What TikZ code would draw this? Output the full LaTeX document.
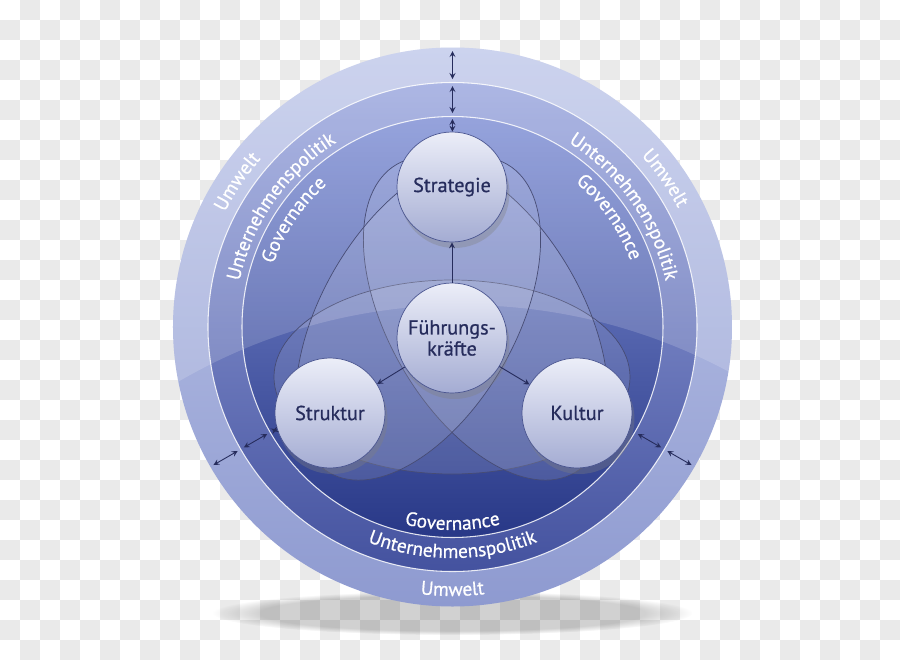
\documentclass[tikz,border=0pt]{standalone}
\usepackage{fontspec}
\setmainfont{PT Sans}
\newfontfamily\medfont[FakeBold=0.7]{PT Sans}
\usetikzlibrary{decorations.text,shadows,fadings}

\definecolor{ink}{HTML}{262C5C}
\definecolor{chk}{HTML}{EAEAEA}
\definecolor{outTop}{HTML}{C3CBEB}
\definecolor{outBot}{HTML}{8E9AD0}
\definecolor{midTop}{HTML}{9DA9DF}
\definecolor{midBot}{HTML}{44529F}
\definecolor{inTop}{HTML}{8292D6}
\definecolor{inBot}{HTML}{283887}
\definecolor{ballTop}{HTML}{ECEEF8}
\definecolor{ballBot}{HTML}{A4ACD3}
\definecolor{ballRim}{HTML}{4A5590}

\newcommand{\rfont}{\medfont\fontsize{11}{13}\selectfont}

\begin{document}
\begin{tikzpicture}[scale=0.2, >=stealth,
    ball/.style={circle, minimum size=2.2cm, inner sep=0pt, draw=ballRim, line width=0.4pt,
      top color=ballTop, bottom color=ballBot, text=ink, align=center,
      font=\medfont\fontsize{11.5}{12}\selectfont,
      drop shadow={opacity=0.35, shadow xshift=0.5mm, shadow yshift=-1.2mm}},
    tref/.style={draw=ink!85, line width=0.4pt, fill=white, fill opacity=0.12},
    ringline/.style={white, line width=0.6pt, opacity=0.85},
    link/.style={->, ink, line width=0.5pt},
    gap/.style={<->, ink, line width=0.5pt},
    ringtext/.style={decorate, decoration={text along path, text align=center,
      text color=white, text={|\rfont|#1}}}]

  \useasboundingbox (-45.25,32.7) rectangle (44.75,-33.3);

  % transparent checker
  \fill[white] (-45.25,32.7) rectangle (44.75,-33.3);
  \foreach \i in {0,...,44}{
    \foreach \j in {0,...,32}{
      \pgfmathtruncatemacro\k{mod(\i+\j,2)}
      \ifnum\k=1 \fill[chk] ({(20*\i-452.5)/10},{(327-20*\j)/10}) rectangle ++(2,-2); \fi
    }
  }

  % shadow and rings
  \fill[black, opacity=0.18, path fading=circle with fuzzy edge 20 percent] (0,-28.6) ellipse (24 and 2.2);
  \shade[top color=outTop, bottom color=outBot] (0,0) circle (27.95);
  \shade[top color=midTop, bottom color=midBot] (0,0) circle (24.45);
  \shade[top color=inTop, bottom color=inBot] (0,0) circle (21.05);

  \begin{scope}
    \clip (0,0) circle (27.95);
    \fill[white, opacity=0.16, even odd rule] (-30,-30) rectangle (30,30) (1,-54.2) circle (56.4);
  \end{scope}

  \draw[ringline] (0,0) circle (24.45);
  \draw[ringline] (0,0) circle (21.05);

  % trefoil, one ellipse round each pair of outer balls
  \begin{scope}[shift={(-0.05,-1.1)}]
    \foreach \r in {0,120,240}
      \draw[tref, rotate=\r] (0,-3.9) ellipse (17.8 and 9.7);
  \end{scope}

  % ring labels
  \path[ringtext=Umwelt] (175:25.5) arc[start angle=175, end angle=117, radius=25.5];
  \path[ringtext=Unternehmenspolitik] (180:21.8) arc[start angle=180, end angle=110, radius=21.8];
  \path[ringtext=Governance] (180:19.0) arc[start angle=180, end angle=112, radius=19.0];

  \path[ringtext=Umwelt] (64:25.5) arc[start angle=64, end angle=6, radius=25.5];
  \path[ringtext=Unternehmenspolitik] (70:21.8) arc[start angle=70, end angle=0, radius=21.8];
  \path[ringtext=Governance] (69:19.0) arc[start angle=69, end angle=1, radius=19.0];

  \path[ringtext=Umwelt] (240:26.9) arc[start angle=240, end angle=300, radius=26.9];
  \path[ringtext=Unternehmenspolitik] (230:23.1) arc[start angle=230, end angle=310, radius=23.1];
  \path[ringtext=Governance] (235:20.3) arc[start angle=235, end angle=305, radius=20.3];

  % nodes
  \node[ball] (strat) at (-0.05,14.0) {Strategie};
  \node[ball] (fk) at (-0.05,-1.1) {Führungs-\\kräfte};
  \node[ball] (struk) at (-12.25,-8.6) {Struktur};
  \node[ball] (kult) at (12.45,-8.6) {Kultur};

  \draw[link] (fk) -- (strat);
  \draw[link] (fk) -- (struk);
  \draw[link] (fk) -- (kult);

  % arrows across the rings
  \foreach \a/\n in {90/t,210/l,330/r}{
    \coordinate (\n0) at (\a:27.6);
    \coordinate (\n1) at (\a:24.8);
    \coordinate (\n2) at (\a:24.1);
    \coordinate (\n3) at (\a:21.4);
    \coordinate (\n4) at (\a:20.8);
    \draw[gap] (\n0) -- (\n1);
    \draw[gap] (\n2) -- (\n3);
  }
  \draw[gap] (t4) -- (strat);
  \draw[gap] (l4) -- (struk);
\end{tikzpicture}
\end{document}
